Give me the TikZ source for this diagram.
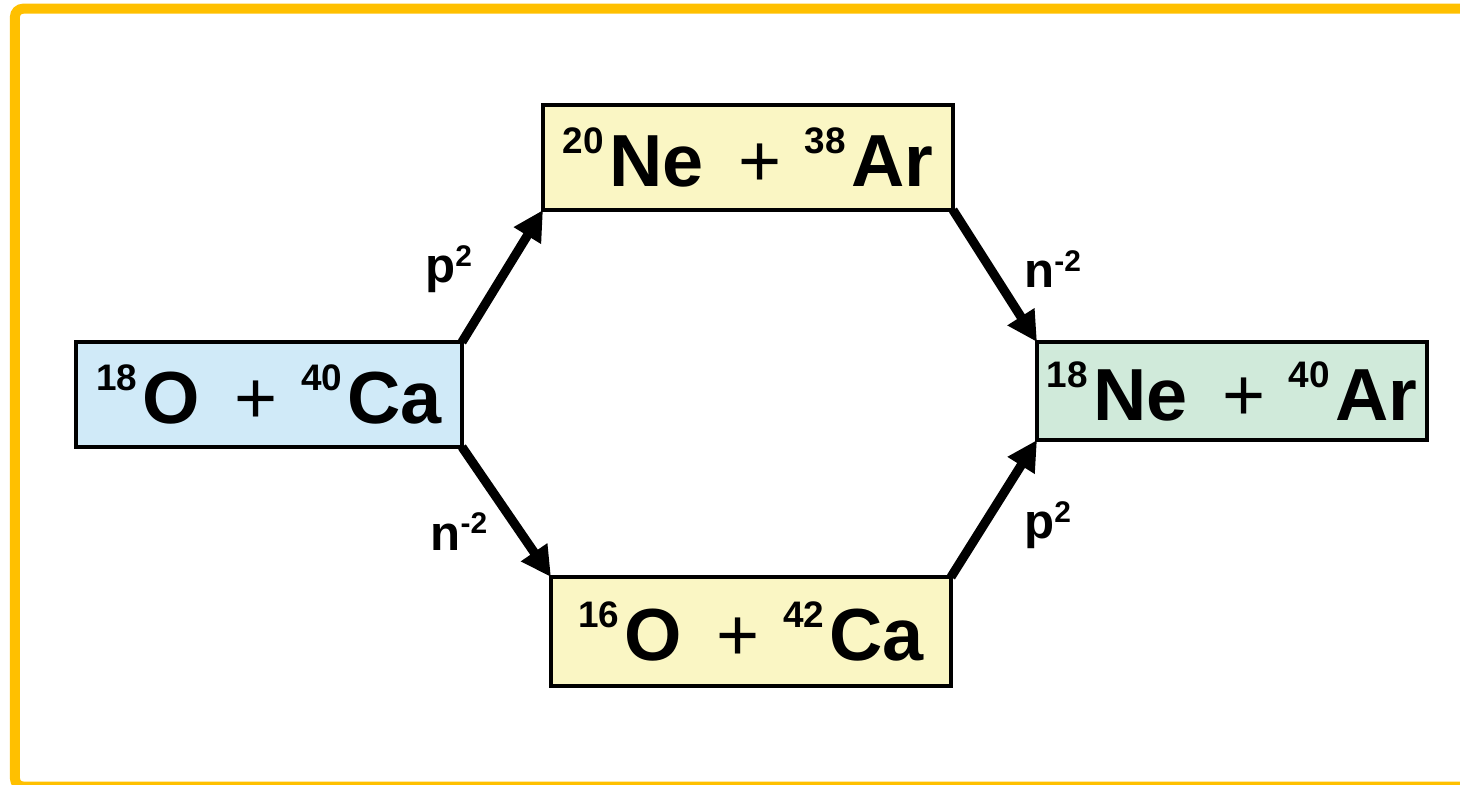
\documentclass[tikz,border=0pt]{standalone}
\usepackage{fontspec}
\setmainfont{Liberation Sans}
\usepackage{xcolor}
\usetikzlibrary{arrows.meta}
\definecolor{frameorange}{RGB}{255,192,0}
\definecolor{boxblue}{RGB}{208,234,248}
\definecolor{boxyellow}{RGB}{250,246,196}
\definecolor{boxgreen}{RGB}{208,234,218}
% nucleus with mass number
\newcommand{\nucl}[2]{{\fontsize{10.5}{10.5}\selectfont\raisebox{9.4pt}{#1}}\kern1.5pt#2}
% transfer label with exponent
\newcommand{\xfer}[2]{#1{\fontsize{8.5}{8.5}\selectfont\raisebox{4.6pt}{#2}}}
\newcommand{\plussign}{\hspace{0.35cm}{\mdseries +}\hspace{0.23cm}}

\begin{document}
\begin{tikzpicture}[
    chan/.style={draw=black, line width=1.2pt, inner sep=0pt, outer sep=0pt,
      font=\fontsize{21}{21}\selectfont\bfseries},
    xfer/.style={-{Triangle[length=0.3cm,width=0.3cm]}, line width=2.6pt},
    lbl/.style={inner sep=0pt, font=\fontsize{14}{14}\selectfont\bfseries}]
      \clip (0,0) rectangle (14.6,-7.84);
      \useasboundingbox (0,0) rectangle (14.6,-7.84);
      % Outer frame
      \draw[frameorange, line width=0.1cm, rounded corners=0.08cm]
        (0.15,-0.087) rectangle (15.0,-7.865);
      % Channels
      \node[chan, fill=boxblue, minimum width=3.86cm, minimum height=1.05cm]
        (entrance) at (2.69,-3.945) {\nucl{18}{O}\plussign\nucl{40}{Ca}};
      \node[chan, fill=boxyellow, minimum width=4.10cm, minimum height=1.05cm]
        (upper) at (7.48,-1.575) {\nucl{20}{Ne}\plussign\nucl{38}{Ar}};
      \node[chan, fill=boxyellow, minimum width=4.00cm, minimum height=1.09cm]
        (lower) at (7.51,-6.315) {\nucl{16}{O}\plussign\nucl{42}{Ca}};
      \node[chan, fill=boxgreen, minimum width=3.90cm, minimum height=0.98cm]
        (exit) at (12.32,-3.91) {\nucl{18}{Ne}\plussign\nucl{40}{Ar}};
      % Proton pair first
      \draw[xfer] (entrance.north east) -- (upper.south west)
        node[lbl, pos=0.55, left=0.3cm] {\xfer{p}{2}};
      \draw[xfer] (upper.south east) -- (exit.north west)
        node[lbl, pos=0.45, right=0.29cm] {\xfer{n}{-2}};
      % Neutron pair first
      \draw[xfer] (entrance.south east) -- (lower.north west)
        node[lbl, pos=0.65, left=0.28cm] {\xfer{n}{-2}};
      \draw[xfer] (lower.north east) -- (exit.south west)
        node[lbl, pos=0.38, right=0.36cm] {\xfer{p}{2}};
    \end{tikzpicture}
\end{document}
